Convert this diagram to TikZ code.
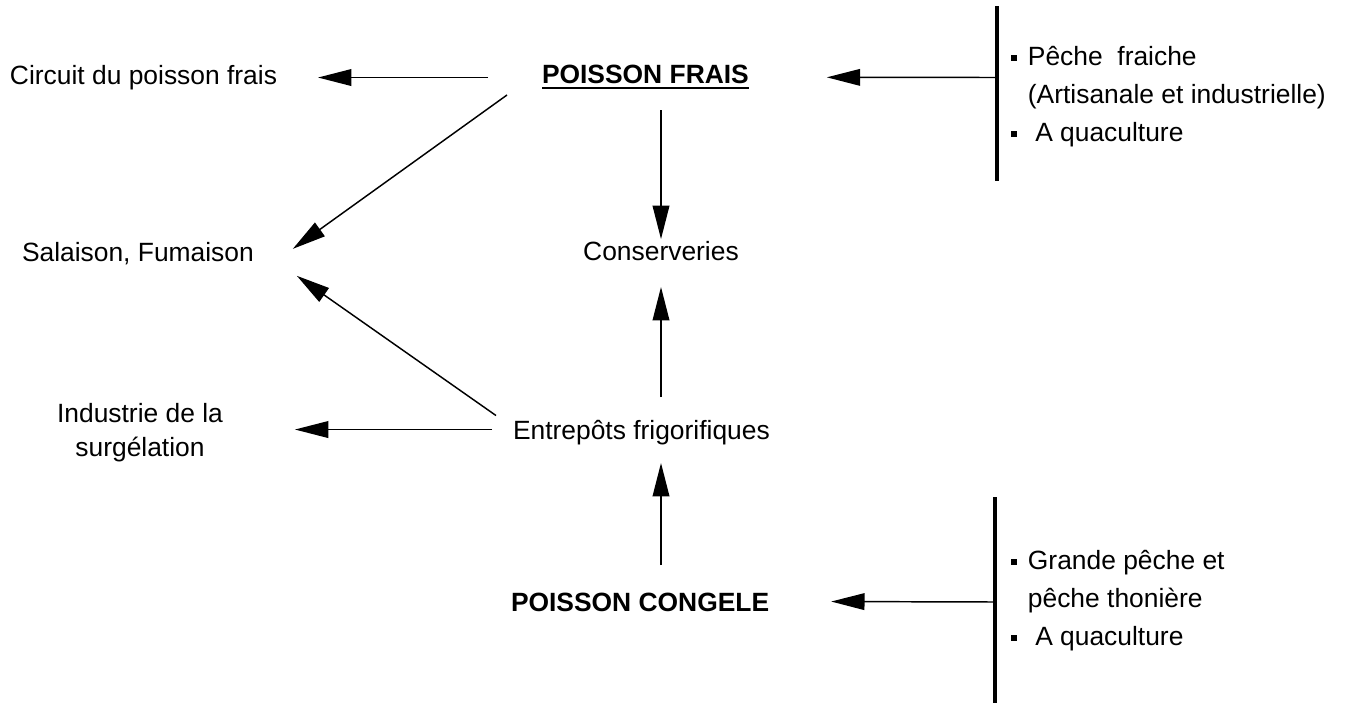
\documentclass[tikz,border=0pt]{standalone}
\usepackage{fontspec}
\setmainfont{Liberation Sans}
\usetikzlibrary{arrows.meta,calc}
% small square bullet set at x-height middle
\newcommand{\sqbul}{\rule[3.1pt]{4.2pt}{4.2pt}}
\begin{document}
\begin{tikzpicture}[x=0.75pt,y=-0.75pt,
  txt/.style={font=\fontsize{19.8pt}{28.5pt}\selectfont},
  lbl/.style={txt, inner sep=0pt, outer sep=0pt, text height=14.2pt, text depth=0pt},
  boldlbl/.style={lbl, font=\fontsize{19.8pt}{28.5pt}\selectfont\bfseries},
  grp/.style={txt, inner sep=0pt, outer sep=0pt},
  flow/.style={line width=1.1pt, -{Triangle[length=25pt,width=12.5pt]}},
  bar/.style={line width=2.3pt}]

\useasboundingbox (0,0) rectangle (1347,703);
\fill[white] (0,0) rectangle (1347,703);

% ---- labels ----
\node[lbl, anchor=base west] (circ) at (10,84) {Circuit du poisson frais};
\node[boldlbl, anchor=base west] (pf) at (542,83) {POISSON FRAIS};
\node[lbl, anchor=base west] (sal) at (22,261) {Salaison, Fumaison};
\node[lbl, anchor=base] (cons) at (661,260) {Conserveries};
\node[grp, anchor=base] (ind) at (140,422)
  {\begin{tabular}[t]{@{}c@{}}Industrie de la\\[-3pt]surgélation\end{tabular}};
\node[lbl, anchor=base west] (ent) at (513,439) {Entrepôts frigorifiques};
\node[boldlbl, anchor=base west] (pc) at (511,611) {POISSON CONGELE};

% underline of the fresh-fish heading
\draw[line width=1.5pt] ($(pf.south west)+(0,4.5)$) -- ($(pf.south east)+(0,4.5)$);

% ---- sources on the right ----
\coordinate (barAn) at (997,6);
\coordinate (barAs) at (997,181);
\coordinate (srcA) at (997,77.5);
\coordinate (barBn) at (995,497);
\coordinate (barBs) at (995,703);
\coordinate (srcB) at (995,602);
\draw[bar] (barAn) -- (barAs);
\draw[bar] (barBn) -- (barBs);

\node[grp, anchor=base west] (fresh) at (1011,65)
  {\begin{tabular}[t]{@{}l@{\hspace{8.5pt}}l@{}}
   \sqbul & Pêche~ fraiche\\
          & (Artisanale et industrielle)\\
   \sqbul & \ A quaculture
   \end{tabular}};
\node[grp, anchor=base west] (frozen) at (1011,569)
  {\begin{tabular}[t]{@{}l@{\hspace{8.5pt}}l@{}}
   \sqbul & Grande pêche et\\
          & pêche thonière\\
   \sqbul & \ A quaculture
   \end{tabular}};

% ---- flows ----
\draw[flow] (srcA) -- ($(pf.east)+(78,3.8)$);
\draw[flow] ($(pf.west)+(-54,4)$) -- ($(circ.east)+(41,3)$);
\draw[flow] ($(pf.south west)+(-35,12)$) -- ($(sal.east)+(39,-2.7)$);
\draw[flow] ($(pf.south -| cons.north)+(0,27)$) -- ($(cons.north)+(0,-2)$);
\draw[flow] ($(ent.north -| cons.south)+(0,-23)$) -- ($(cons.south)+(0,27)$);
\draw[flow] ($(ent.west)+(-17,-14)$) -- ($(sal.east)+(43,24.3)$);
\draw[flow] ($(ent.west)+(-21,0)$) -- ($(ind.east |- ent.west)+(72,0)$);
\draw[flow] ($(pc.north -| cons.south)+(0,-27)$) -- ($(ent.south -| cons.south)+(0,24)$);
\draw[flow] (srcB) -- ($(pc.east)+(62,0)$);
\end{tikzpicture}
\end{document}
